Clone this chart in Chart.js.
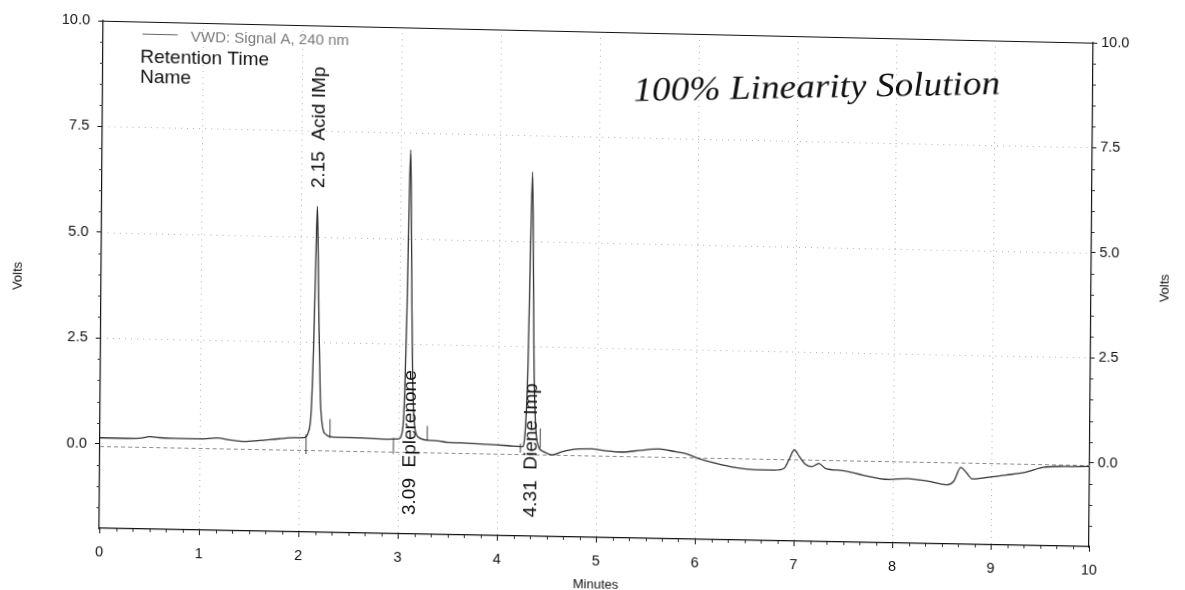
<!DOCTYPE html>
<html><head><meta charset="utf-8">
<script src="https://cdn.jsdelivr.net/npm/chart.js@4.4.1/dist/chart.umd.min.js"></script>
<style>
html,body{margin:0;padding:0;background:#fff;overflow:hidden;width:1185px;height:590px;}
#wrap{position:absolute;left:0;top:0;width:1185px;height:590px;transform-origin:0 0;}
canvas{display:block;}
</style></head><body>
<div id="wrap"><canvas id="c" width="1185" height="590"></canvas></div>
<script>
// ---- data ----
const times = [0.00,0.20,0.40,0.50,0.60,0.80,1.00,1.18,1.30,1.45,1.60,1.80,1.95,2.05,2.09,2.12,2.14,2.155,2.165,2.175,2.19,2.21,2.235,2.27,2.32,2.50,2.70,2.90,3.00,3.04,3.06,3.075,3.09,3.10,3.11,3.125,3.14,3.16,3.20,3.30,3.40,3.50,3.70,3.90,4.10,4.25,4.28,4.30,4.315,4.33,4.345,4.36,4.38,4.41,4.46,4.55,4.65,4.80,4.95,5.10,5.25,5.45,5.63,5.80,5.92,6.02,6.20,6.41,6.61,6.80,6.90,6.95,7.00,7.05,7.11,7.18,7.25,7.32,7.49,7.70,7.96,8.15,8.35,8.55,8.62,8.69,8.75,8.81,8.98,9.15,9.34,9.53,9.75,10.0];
const volts = [0.14,0.14,0.15,0.19,0.17,0.16,0.16,0.19,0.15,0.12,0.15,0.20,0.23,0.24,0.35,0.9,2.6,4.6,5.72,4.9,3.0,1.2,0.5,0.32,0.27,0.26,0.25,0.24,0.25,0.45,1.4,3.2,6.0,7.10,6.0,3.4,1.5,0.6,0.3,0.23,0.22,0.19,0.18,0.16,0.14,0.12,0.6,2.0,4.6,6.64,4.8,2.2,0.7,0.15,0.02,-0.06,0.02,0.09,0.10,0.06,0.04,0.09,0.13,0.07,0.02,-0.07,-0.18,-0.28,-0.32,-0.32,-0.27,-0.05,0.17,0.02,-0.16,-0.22,-0.14,-0.26,-0.30,-0.40,-0.49,-0.46,-0.51,-0.59,-0.50,-0.17,-0.30,-0.44,-0.39,-0.33,-0.26,-0.13,-0.10,-0.09];
// integration event marks: time, low volts, high volts
const markTimes = [2.07,2.31,2.95,3.29,4.23,4.43];
const markLow   = [-0.15,0.24,-0.11,0.22,-0.02,0.10];
const markHigh  = [0.32,0.69,0.27,0.57,0.19,0.56];
// peak annotations
const peakRT    = ['2.15','3.09','4.31'];
const peakNames = ['Acid IMp','Eplerenone','Diene Imp'];
// axis ticks
const xTicks = [0,1,2,3,4,5,6,7,8,9,10];
const yTicks = [0,2.5,5,7.5,10];
const xMin = 0, xMax = 10, yMin = -2, yMax = 10;

const FONT = "'Liberation Sans', Arial, Helvetica, sans-serif";
const INK = '#111';

const tracePts = times.map((t,i)=>({x:t,y:volts[i]}));
const markPts = [];
markTimes.forEach((t,i)=>{ markPts.push({x:t,y:markLow[i]},{x:t,y:markHigh[i]},{x:t,y:null}); });

const decorPlugin = {
  id:'decor',
  beforeDatasetsDraw(chart){
    const {ctx, chartArea:a, scales} = chart;
    const xs = scales.x, ys = scales.y;
    ctx.save();
    ctx.lineWidth = 1;
    ctx.strokeStyle = '#b0b0b0';
    ctx.setLineDash([1,5]);
    xTicks.filter(v=>v>xMin && v<xMax).forEach(v=>{
      const p = Math.round(xs.getPixelForValue(v))+0.5;
      ctx.beginPath(); ctx.moveTo(p,a.top); ctx.lineTo(p,a.bottom); ctx.stroke();
    });
    yTicks.filter(v=>v>0 && v<yMax).forEach(v=>{
      const p = Math.round(ys.getPixelForValue(v))+0.5;
      ctx.beginPath(); ctx.moveTo(a.left,p); ctx.lineTo(a.right,p); ctx.stroke();
    });
    ctx.strokeStyle = '#8c8c8c';
    ctx.setLineDash([4,3]);
    const z = Math.round(ys.getPixelForValue(0))+0.5;
    ctx.beginPath(); ctx.moveTo(a.left,z+2); ctx.lineTo(a.right,z+2); ctx.stroke();
    ctx.restore();
  },
  afterDraw(chart){
    const {ctx, chartArea:a, scales} = chart;
    const xs = scales.x, ys = scales.y;
    ctx.save();
    ctx.strokeStyle = '#111'; ctx.lineWidth = 1.2; ctx.setLineDash([]);
    ctx.beginPath(); ctx.moveTo(a.left-5,a.top+0.5); ctx.lineTo(a.right,a.top+0.5); ctx.stroke();
    ctx.lineWidth = 1; ctx.strokeStyle = '#333';
    for(let k=1;k<60;k++){
      if(k%6===0) continue;
      const p = Math.round(xs.getPixelForValue(k/6))+0.5;
      ctx.beginPath(); ctx.moveTo(p,a.bottom); ctx.lineTo(p,a.bottom+3); ctx.stroke();
    }
    for(let v=yMin+0.5; v<yMax; v+=0.5){
      if(Math.abs(v/2.5-Math.round(v/2.5))<1e-6 && v>=0) continue;
      const p = Math.round(ys.getPixelForValue(v))+0.5;
      ctx.beginPath(); ctx.moveTo(a.left,p); ctx.lineTo(a.left-3,p); ctx.stroke();
      ctx.beginPath(); ctx.moveTo(a.right,p); ctx.lineTo(a.right+3,p); ctx.stroke();
    }
    ctx.strokeStyle = '#666'; ctx.lineWidth = 1;
    ctx.beginPath(); ctx.moveTo(142,33.5); ctx.lineTo(177,33.5); ctx.stroke();
    ctx.fillStyle = '#7a7a7a'; ctx.font = '15px '+FONT; ctx.textBaseline='middle'; ctx.textAlign='left';
    ctx.fillText('VWD: Signal A, 240 nm', 190, 36);
    ctx.fillStyle = INK; ctx.font = '19px '+FONT;
    ctx.fillText('Retention Time', 140, 57);
    ctx.fillText('Name', 140, 77);
    const labelBase = [6.15, -1.55, -1.55];
    peakRT.forEach((rt,i)=>{
      const px = xs.getPixelForValue(parseFloat(rt)) + 3;
      const py = ys.getPixelForValue(labelBase[i]);
      ctx.save(); ctx.translate(px,py); ctx.rotate(-Math.PI/2);
      ctx.font = '19px '+FONT; ctx.fillStyle = INK; ctx.textAlign='left'; ctx.textBaseline='middle';
      ctx.fillText(rt + '  ' + peakNames[i], 0, 0);
      ctx.restore();
    });
    ctx.font = '13px '+FONT; ctx.fillStyle = INK; ctx.textAlign='center'; ctx.textBaseline='middle';
    ctx.save(); ctx.translate(20,277); ctx.rotate(-Math.PI/2); ctx.fillText('Volts',0,0); ctx.restore();
    ctx.save(); ctx.translate(1167,266); ctx.rotate(-Math.PI/2); ctx.fillText('Volts',0,0); ctx.restore();
    ctx.fillText('Minutes', 598, 574);
    ctx.save();
    ctx.translate(816,82); ctx.rotate(-2.3*Math.PI/180);
    ctx.font = "italic 34px 'Liberation Serif', 'DejaVu Serif', serif";
    const txt = '100% Linearity Solution';
    const w = ctx.measureText(txt).width;
    ctx.scale(368/w,1);
    ctx.fillStyle = '#111'; ctx.textAlign='center'; ctx.textBaseline='alphabetic';
    ctx.fillText(txt,0,0);
    ctx.restore();
    ctx.restore();
  }
};

const tickFont = {family: FONT, size: 14.5};
const chart = new Chart(document.getElementById('c'), {
  type:'line',
  data:{datasets:[
    {data: tracePts, borderColor:'#333', borderWidth:1.3, pointRadius:0, cubicInterpolationMode:'monotone', yAxisID:'y'},
    {data: markPts, borderColor:'#444', borderWidth:1, pointRadius:0, spanGaps:false, yAxisID:'y'}
  ]},
  options:{
    responsive:false, animation:false, devicePixelRatio:1,
    layout:{padding:{top:21,left:0,right:0,bottom:0}},
    plugins:{legend:{display:false}, tooltip:{enabled:false}},
    scales:{
      x:{type:'linear', position:'bottom', min:xMin, max:xMax,
        afterBuildTicks: s=>{ s.ticks = xTicks.map(v=>({value:v})); },
        afterFit: s=>{ s.height = 63; },
        ticks:{font:tickFont, color:INK, padding:10, maxRotation:0, autoSkip:false, callback:v=>String(v)},
        grid:{drawOnChartArea:false, drawTicks:true, tickLength:5, tickColor:'#111', tickWidth:1},
        border:{display:true, color:'#111', width:1.2}},
      y:{type:'linear', position:'left', min:yMin, max:yMax,
        afterBuildTicks: s=>{ s.ticks = yTicks.map(v=>({value:v})); },
        afterFit: s=>{ s.width = 103; },
        ticks:{font:tickFont, color:INK, padding:8, callback:v=>Number(v).toFixed(1)},
        grid:{drawOnChartArea:false, drawTicks:true, tickLength:5, tickColor:'#111', tickWidth:1},
        border:{display:true, color:'#111', width:1.2}},
      y2:{type:'linear', position:'right', min:yMin, max:yMax,
        afterBuildTicks: s=>{ s.ticks = yTicks.map(v=>({value:v})); },
        afterFit: s=>{ s.width = 92; },
        ticks:{font:tickFont, color:INK, padding:4, callback:v=>Number(v).toFixed(1)},
        grid:{drawOnChartArea:false, drawTicks:true, tickLength:4, tickColor:'#111', tickWidth:1},
        border:{display:true, color:'#111', width:1.2}}
    }
  },
  plugins:[decorPlugin]
});

// ---- reproduce the slight skew of the scanned page (projective mapping of the plot frame) ----
(function(){
  const a = chart.chartArea;
  const src = [[a.left,a.top],[a.right,a.top],[a.right,a.bottom],[a.left,a.bottom]];
  const dst = [[103.3,20.7],[1093.3,42.7],[1089,546.7],[99.3,528.3]];
  const M = [], r = [];
  for(let i=0;i<4;i++){
    const [x,y]=src[i], [u,v]=dst[i];
    M.push([x,y,1,0,0,0,-x*u,-y*u]); r.push(u);
    M.push([0,0,0,x,y,1,-x*v,-y*v]); r.push(v);
  }
  const n=8;
  for(let c=0;c<n;c++){
    let p=c; for(let k=c+1;k<n;k++) if(Math.abs(M[k][c])>Math.abs(M[p][c])) p=k;
    [M[c],M[p]]=[M[p],M[c]]; [r[c],r[p]]=[r[p],r[c]];
    for(let k=0;k<n;k++){ if(k===c) continue; const f=M[k][c]/M[c][c];
      for(let j=c;j<n;j++) M[k][j]-=f*M[c][j]; r[k]-=f*r[c]; }
  }
  const h = r.map((v,i)=>v/M[i][i]);
  const [A,B,C,D,E,F,G,H] = h;
  document.getElementById('wrap').style.transform =
    `matrix3d(${A},${D},0,${G},${B},${E},0,${H},0,0,1,0,${C},${F},0,1)`;
})();
</script>
</body></html>
